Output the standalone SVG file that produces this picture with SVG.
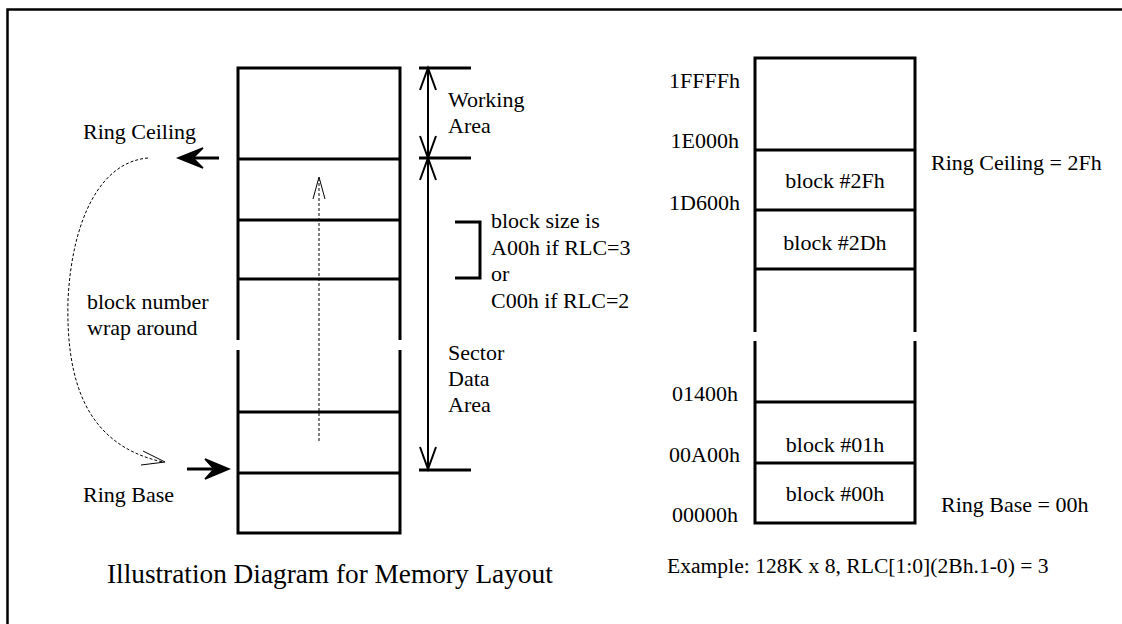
<svg xmlns="http://www.w3.org/2000/svg" width="1122" height="624" viewBox="0 0 1122 624">
<style>
text{font-family:"Liberation Serif","Times New Roman",serif;font-size:22px;fill:#000}
.title{font-size:27.3px}
.ex{font-size:21.6px}
.box{fill:none;stroke:#000;stroke-width:3}
.dim{fill:none;stroke:#000;stroke-width:2}
.tick{fill:none;stroke:#000;stroke-width:3}
.thin{fill:none;stroke:#000;stroke-width:1;stroke-dasharray:3 2}
.end{text-anchor:end}
.mid{text-anchor:middle}
</style>
<rect width="1122" height="624" fill="#fff"/>
<path d="M7.5,624 V9.5 H1122" fill="none" stroke="#000" stroke-width="2.5"/>

<g id="left-memory">
<path class="box" d="M238,340 V68 H400 V340 M238,350 V533 H400 V350"/>
<path class="box" d="M238,159 H400 M238,220 H400 M238,279 H400 M238,412 H400 M238,473 H400"/>
</g>

<g id="connectors">
<path class="dim" d="M428,68 V470"/>
<path class="tick" d="M419,68 H471 M419,158 H471 M419,470 H471"/>
<path class="dim" d="M420,90 L428,68 L436,90 M420,136 L428,158 L436,136 M420,180 L428,158 L436,180 M420,447 L428,469 L436,447"/>
<path class="tick" d="M455,222 H480 V278 H455"/>
<path d="M219,158 H190" stroke="#000" stroke-width="3"/>
<path d="M178,158 L203,148 L193,158 L203,168 Z" fill="#000" stroke="#000" stroke-width="1.5"/>
<path d="M187,469 H215" stroke="#000" stroke-width="3"/>
<path d="M229,469 L205,459 L214,469 L205,479 Z" fill="#000" stroke="#000" stroke-width="1.5"/>
<path class="thin" d="M319,441 V180"/>
<path d="M313,199 L319,177 L325,199" fill="none" stroke="#000" stroke-width="1"/>
<path class="thin" stroke-dasharray="2.5 1.5" d="M148,158 C100,162 72,220 68,300 C66,380 85,445 163,462"/>
<path d="M143,451 L165,462 L141,465" fill="none" stroke="#000" stroke-width="1"/>
</g>

<g id="left-labels">
<text x="448" y="107">Working</text>
<text x="448" y="133">Area</text>
<text x="83" y="139">Ring Ceiling</text>
<text x="491" y="228">block size is</text>
<text x="491" y="255">A00h if RLC=3</text>
<text x="491" y="281">or</text>
<text x="491" y="308">C00h if RLC=2</text>
<text x="87" y="309">block number</text>
<text x="87" y="335">wrap around</text>
<text x="448" y="360">Sector</text>
<text x="448" y="386">Data</text>
<text x="448" y="412">Area</text>
<text x="83" y="502">Ring Base</text>
<text class="title" x="107" y="583">Illustration Diagram for Memory Layout</text>
</g>

<g id="right-memory">
<path class="box" d="M755,332 V58 H915 V332 M755,341 V523 H915 V341"/>
<path class="box" d="M755,150 H915 M755,210 H915 M755,269 H915 M755,402 H915 M755,463 H915"/>
</g>

<g id="right-labels">
<text class="end" x="740" y="88">1FFFFh</text>
<text class="end" x="739" y="148">1E000h</text>
<text class="end" x="740" y="210">1D600h</text>
<text class="end" x="738" y="401">01400h</text>
<text class="end" x="740" y="462">00A00h</text>
<text class="end" x="738" y="522">00000h</text>
<text class="mid" x="835" y="188">block #2Fh</text>
<text class="mid" x="835" y="250">block #2Dh</text>
<text class="mid" x="835" y="452">block #01h</text>
<text class="mid" x="835" y="501">block #00h</text>
<text x="931" y="170">Ring Ceiling = 2Fh</text>
<text x="941" y="512">Ring Base = 00h</text>
<text class="ex" x="667" y="573">Example: 128K x 8, RLC[1:0](2Bh.1-0) = 3</text>
</g>
</svg>
